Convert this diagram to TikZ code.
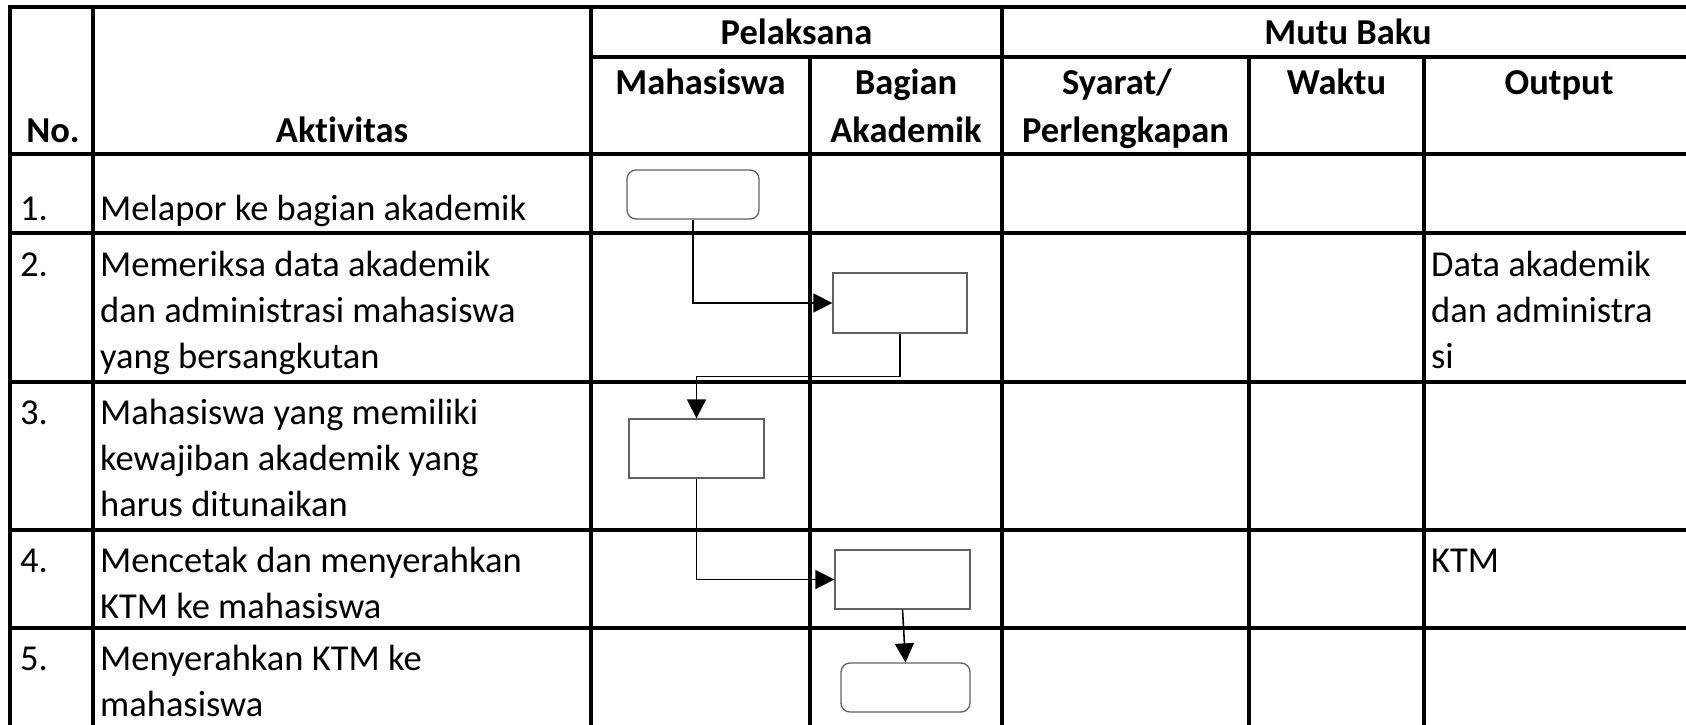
\documentclass[tikz,border=0pt]{standalone}
\usepackage{fontspec}
\setmainfont{Carlito}[Ligatures=NoCommon]
\usetikzlibrary{arrows.meta}
\begin{document}
\begin{tikzpicture}[x=1pt,y=-1pt,
  grid/.style={line width=3.4pt, line cap=rect},
  txt/.style={font=\fontsize{36.5}{46}\selectfont, inner sep=0pt, anchor=base west},
  hdr/.style={font=\fontsize{36.5}{46}\selectfont\bfseries, inner sep=0pt, anchor=base},
  proc/.style={draw=black!62, line width=1.3pt, fill=white, inner sep=0pt},
  term/.style={proc, rounded corners=9pt},
  flow/.style={line width=1.6pt, -{Triangle[length=19pt,width=19pt]}}]
\useasboundingbox (0,0) rectangle (1686,725);
\clip (0,0) rectangle (1686,725);
% grid lines
\foreach \y in {7,154,233,382,530,628} \draw[grid] (10,\y) -- (1700,\y);
\draw[grid] (591,57) -- (1700,57);
\foreach \x in {10,93,591,1002} \draw[grid] (\x,7) -- (\x,740);
\foreach \x in {810,1249,1424} \draw[grid] (\x,57) -- (\x,740);
% header
\node[hdr] (hpel) at (796.5,45) {Pelaksana};
\node[hdr] (hmut) at (1348,45) {Mutu Baku};
\node[hdr] (hmhs) at (700.5,94) {Mahasiswa};
\node[hdr] (hbag1) at (906,94) {Bagian};
\node[hdr] (hbag2) at (906,142) {Akademik};
\node[hdr] (hsy1) at (1117,94) {Syarat/};
\node[hdr] (hsy2) at (1125.5,142) {Perlengkapan};
\node[hdr] (hwak) at (1336.5,94) {Waktu};
\node[hdr] (hout) at (1559,94) {Output};
\node[hdr] (hno) at (53,142) {No.};
\node[hdr] (hakt) at (342,142) {Aktivitas};
% rows
\node[txt] (n1) at (20,220) {1.};
\node[txt] (a1) at (100,220) {Melapor ke bagian akademik};
\node[txt] (n2) at (20,276) {2.};
\node[txt] (a2a) at (100,276) {Memeriksa data akademik};
\node[txt] (a2b) at (100,322) {dan administrasi mahasiswa};
\node[txt] (a2c) at (100,368) {yang bersangkutan};
\node[txt] (o2a) at (1431,276) {Data akademik};
\node[txt] (o2b) at (1431,322) {dan administra};
\node[txt] (o2c) at (1431,368) {si};
\node[txt] (n3) at (20,424) {3.};
\node[txt] (a3a) at (100,424) {Mahasiswa yang memiliki};
\node[txt] (a3b) at (100,470) {kewajiban akademik yang};
\node[txt] (a3c) at (100,516) {harus ditunaikan};
\node[txt] (n4) at (20,572) {4.};
\node[txt] (a4a) at (100,572) {Mencetak dan menyerahkan};
\node[txt] (a4b) at (100,618) {KTM ke mahasiswa};
\node[txt] (o4) at (1431,572) {KTM};
\node[txt] (n5) at (20,670) {5.};
\node[txt] (a5a) at (100,670) {Menyerahkan KTM ke};
\node[txt] (a5b) at (100,716) {mahasiswa};
% flow boxes
\node[term, minimum width=132pt, minimum height=49pt] (b1) at (693,194.5) {};
\node[proc, minimum width=134pt, minimum height=60pt] (b2) at (900,303) {};
\node[proc, minimum width=135pt, minimum height=59pt] (b3) at (696.5,448.5) {};
\node[proc, minimum width=135pt, minimum height=59pt] (b4) at (902.5,579.5) {};
\node[term, minimum width=129pt, minimum height=49pt] (b5) at (905.5,687.5) {};
% connectors
\draw[flow] (b1.south) |- (b2.west);
\draw[flow] (b2.south) -- ++(0,43) -| (b3.north);
\draw[flow] (b3.south) |- (b4.west);
\draw[flow] (b4.south) -- (b5.north);
\end{tikzpicture}
\end{document}
